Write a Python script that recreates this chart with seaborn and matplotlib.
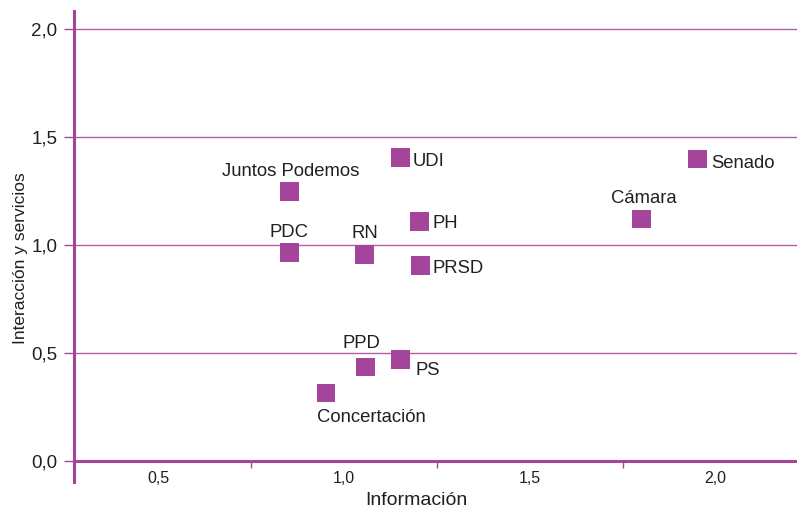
import matplotlib
matplotlib.use('Agg')
import matplotlib.pyplot as plt
import seaborn as sns
import pandas as pd

# datos
partidos = ['Juntos Podemos', 'PDC', 'RN', 'UDI', 'PH', 'PRSD',
            'PPD', 'PS', 'Concertación', 'Cámara', 'Senado']
informacion = [0.853, 0.853, 1.055, 1.152, 1.203, 1.206,
               1.057, 1.152, 0.951, 1.801, 1.952]
interaccion = [1.247, 0.967, 0.957, 1.406, 1.108, 0.906,
               0.435, 0.468, 0.315, 1.120, 1.398]
y_ticks = [0.0, 0.5, 1.0, 1.5, 2.0]
x_ticks = [0.5, 1.0, 1.5, 2.0]
x_separadores = [0.75, 1.25, 1.75]

# posición de cada etiqueta respecto al punto (pixeles, alineación)
etiquetas = {
    'Juntos Podemos': (1.5, 16, 'center'),
    'PDC': (-1, 15.5, 'center'),
    'RN': (0, 16.5, 'center'),
    'UDI': (12.5, -8.5, 'left'),
    'PH': (12.5, -6, 'left'),
    'PRSD': (11.5, -7.5, 'left'),
    'PPD': (-4, 19.3, 'center'),
    'PS': (14.5, -14.7, 'left'),
    'Concertación': (-9.5, -28.7, 'left'),
    'Cámara': (2, 16.3, 'center'),
    'Senado': (14, -8.7, 'left'),
}

morado = '#a4449a'
rejilla = '#b160a8'
texto = '#231f20'

df = pd.DataFrame({'partido': partidos, 'informacion': informacion,
                   'interaccion': interaccion})

sns.set_style('white')
plt.rcParams['font.family'] = ['Liberation Sans', 'DejaVu Sans']

fig = plt.figure(figsize=(7.97, 5.18), dpi=100)
ax = fig.add_axes([74 / 797, 57 / 518, 723 / 797, 450 / 518])

sns.scatterplot(data=df, x='informacion', y='interaccion', marker='s', s=185,
                color=morado, edgecolor='none', linewidth=0, ax=ax, zorder=3)

for nombre, xv, yv in zip(partidos, informacion, interaccion):
    dx, dy, ha = etiquetas[nombre]
    ax.annotate(nombre, (xv, yv), xytext=(dx, dy), textcoords='offset pixels',
                ha=ha, va='baseline', fontsize=13.3, color=texto)

ax.set_xlim(0.272, 2.220)
ax.set_ylim(0, 2.083)

ax.set_yticks(y_ticks)
ax.set_yticklabels([f'{v:.1f}'.replace('.', ',') for v in y_ticks])
ax.set_xticks(x_ticks)
ax.set_xticklabels([f'{v:.1f}'.replace('.', ',') for v in x_ticks])
ax.set_xticks(x_separadores, minor=True)

ax.tick_params(axis='y', left=True, length=7, width=1, color=morado,
               labelsize=13.5, labelcolor=texto, pad=5)
ax.tick_params(axis='x', which='major', bottom=True, length=0,
               labelsize=11.5, labelcolor=texto, pad=7)
ax.tick_params(axis='x', which='minor', bottom=True, length=5, width=1,
               color=morado, direction='out')

ax.yaxis.grid(True, color=rejilla, linewidth=1.0)
ax.xaxis.grid(False)
ax.set_axisbelow(True)

for lado in ['top', 'right']:
    ax.spines[lado].set_visible(False)
for lado in ['left', 'bottom']:
    ax.spines[lado].set_color(morado)
    ax.spines[lado].set_linewidth(2.2)
ax.spines['left'].set_bounds(-0.097, 2.083)
ax.spines['left'].set_zorder(4)
ax.spines['bottom'].set_zorder(4)

ax.set_xlabel('Información', fontsize=14, color=texto)
ax.xaxis.set_label_coords(0.473, -0.068)
ax.set_ylabel('Interacción y servicios', fontsize=12.5, color=texto)
ax.yaxis.set_label_coords(-0.064, 0.45)

fig.savefig('out.png', dpi=100)
